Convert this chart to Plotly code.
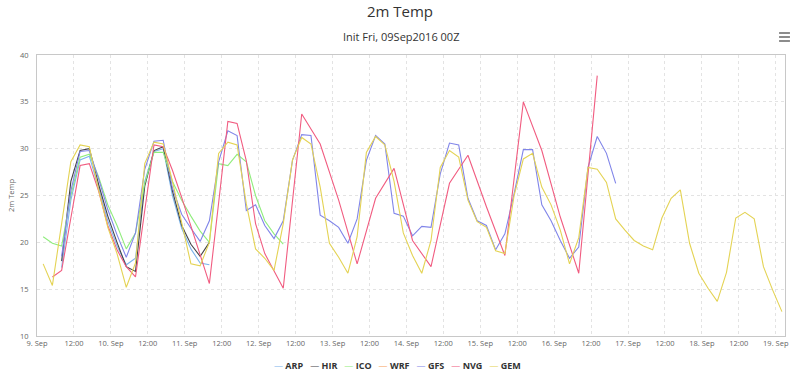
import plotly.graph_objects as go
from datetime import datetime, timedelta

# ---------------- data ----------------
base_time = datetime(2016, 9, 9, 2, 0)

names = ["ARP", "HIR", "ICO", "WRF", "GFS", "NVG", "GEM"]
colors = ["#7cb5ec", "#434348", "#90ed7d", "#f7a35c", "#8085e9", "#f15c80", "#e4d354"]

arp_hours = list(range(6, 55, 3))
arp_vals = [17.3, 24.5, 28.8, 29.2, 25.8, 22.3, 19.6, 17.6, 18.3, 26.5,
            29.7, 30.0, 25.0, 21.5, 19.3, 17.8, 17.6]

hir_hours = list(range(6, 55, 3))
hir_vals = [18.0, 26.5, 29.8, 30.0, 26.2, 22.8, 20.0, 17.4, 16.9, 26.0,
            29.8, 30.2, 25.5, 21.8, 19.8, 18.5, 20.0]

ico_hours = list(range(0, 79, 3))
ico_vals = [20.6, 19.9, 19.6, 25.0, 29.1, 29.4, 27.0, 24.0, 21.8, 19.3,
            21.0, 26.3, 29.6, 29.6, 26.5, 24.5, 22.8, 21.2, 20.0, 28.4,
            28.2, 29.4, 28.6, 25.0, 22.3, 20.9, 19.8]

wrf_hours = []
wrf_vals = []

gfs_hours = list(range(6, 187, 3))
gfs_vals = [18.5, 25.5, 29.7, 29.8, 26.8, 23.5, 20.8, 18.4, 21.0, 27.8,
            30.8, 30.9, 25.8, 23.0, 21.5, 20.1, 22.3, 28.6, 31.9, 31.4,
            23.4, 24.0, 21.8, 20.4, 22.3, 28.75, 31.5, 31.4, 22.9, 22.3,
            21.6, 19.9, 22.5, 28.75, 31.4, 30.5, 23.1, 22.8, 20.7, 21.7,
            21.6, 27.3, 30.6, 30.4, 24.7, 22.3, 21.8, 19.2, 20.9, 25.2,
            29.9, 29.9, 24.0, 22.3, 20.2, 18.3, 19.5, 28.0, 31.3, 29.5,
            26.3]

nvg_hours = list(range(3, 73, 3)) + list(range(78, 181, 6))
nvg_vals = [16.3, 17.0, 22.6, 28.2, 28.4, 25.5, 21.8, 19.2, 17.4, 16.3,
            23.4, 30.4, 30.2, 27.7, 24.8, 21.7, 18.7, 15.6, 24.2, 32.9,
            32.7, 28.7, 22.0, 18.8,
            15.1, 33.7, 30.5, 24.5, 17.7, 24.7, 27.9, 20.2, 17.4, 26.3,
            29.3, 23.8, 18.6, 35.0, 29.8, 22.7, 16.7, 37.8]

gem_hours = list(range(0, 241, 3))
gem_vals = [17.7, 15.4, 22.0, 28.6, 30.4, 30.2, 25.6, 21.6, 18.8, 15.2,
            17.8, 28.4, 30.7, 30.5, 26.5, 22.0, 17.7, 17.5, 20.0, 29.5,
            30.7, 30.4, 24.1, 19.3, 18.3, 17.0, 22.0, 28.8, 31.2, 30.5,
            25.9, 19.9, 18.4, 16.7, 20.6, 29.6, 31.3, 30.4, 26.5, 21.0,
            18.6, 16.7, 20.2, 28.0, 29.8, 29.1, 24.5, 22.2, 21.6, 19.1,
            18.8, 25.0, 28.9, 29.5, 25.9, 24.0, 21.3, 17.7, 20.5, 28.0,
            27.8, 26.4, 22.5, 21.3, 20.2, 19.6, 19.2, 22.6, 24.7, 25.6,
            19.9, 16.7, 15.1, 13.7, 16.8, 22.6, 23.2, 22.5, 17.4, 14.9,
            12.6]

series_hours = [arp_hours, hir_hours, ico_hours, wrf_hours, gfs_hours, nvg_hours, gem_hours]
series_vals = [arp_vals, hir_vals, ico_vals, wrf_vals, gfs_vals, nvg_vals, gem_vals]

tick_labels = ["9. Sep", "12:00", "10. Sep", "12:00", "11. Sep", "12:00", "12. Sep", "12:00",
               "13. Sep", "12:00", "14. Sep", "12:00", "15. Sep", "12:00", "16. Sep", "12:00",
               "17. Sep", "12:00", "18. Sep", "12:00", "19. Sep"]
y_ticks = [10, 15, 20, 25, 30, 35, 40]

# ---------------- figure ----------------
FONT = "Open Sans, Liberation Sans, sans-serif"
fig = go.Figure()
for name, col, hrs, vals in zip(names, colors, series_hours, series_vals):
    fig.add_trace(go.Scatter(
        x=[base_time + timedelta(hours=h) for h in hrs], y=vals,
        mode="lines", name=name, line=dict(color=col, width=1.1),
        showlegend=False))

axis_start = datetime(2016, 9, 9, 0, 0)
tick_vals = [axis_start + timedelta(hours=12 * i) for i in range(len(tick_labels))]

W, H = 800, 372
ml, mr, mt, mb = 32, 11, 55, 36
pw, ph = W - ml - mr, H - mt - mb

def px_x(x):
    return (x - ml) / pw

def px_y(y):
    return (H - mb - y) / ph

# legend built from names/colors
legend_txt = "\u00a0\u00a0\u00a0".join(
    f"<span style='color:{c}'>\u2014</span>\u00a0<b>{n}</b>" for n, c in zip(names, colors))

shapes = []
for yy in (33, 37, 41):
    shapes.append(dict(type="line", xref="paper", yref="paper",
                       x0=px_x(783), x1=px_x(794), y0=px_y(yy), y1=px_y(yy),
                       line=dict(color="#666666", width=1.5)))

fig.update_layout(
    width=W, height=H,
    margin=dict(l=ml, r=mr, t=mt, b=mb),
    paper_bgcolor="white", plot_bgcolor="white",
    font=dict(family=FONT, color="#666666"),
    title=dict(text="2m Temp", x=0.5, xanchor="center", y=1 - 12 / H, yanchor="middle",
               font=dict(family=FONT, size=15, color="#333333")),
    annotations=[
        dict(text="Init Fri, 09Sep2016 00Z", xref="paper", yref="paper",
             x=px_x(400), y=px_y(36), xanchor="center", yanchor="middle",
             showarrow=False, font=dict(family=FONT, size=11, color="#333333")),
        dict(text=legend_txt, xref="paper", yref="paper",
             x=px_x(397), y=px_y(365), xanchor="center", yanchor="middle",
             showarrow=False, font=dict(family=FONT, size=9, color="#333333")),
    ],
    shapes=shapes,
    xaxis=dict(
        type="date",
        range=[axis_start, datetime(2016, 9, 19, 3, 0)],
        tickmode="array", tickvals=tick_vals, ticktext=tick_labels,
        tickfont=dict(size=7.5, color="#666666"),
        showgrid=True, gridcolor="#e3e3e3", griddash="3px,3px", gridwidth=1,
        showline=True, linecolor="#c8c8c8", linewidth=1, mirror=True,
        ticks="", zeroline=False,
    ),
    yaxis=dict(
        range=[10, 40], tickmode="array", tickvals=y_ticks,
        ticktext=[str(v) for v in y_ticks],
        tickfont=dict(size=7.5, color="#666666"),
        showgrid=True, gridcolor="#e3e3e3", griddash="3px,3px", gridwidth=1,
        showline=True, linecolor="#c8c8c8", linewidth=1, mirror=True,
        ticks="", zeroline=False, ticklabelstandoff=6,
        title=dict(text="2m Temp", font=dict(size=7.5, color="#666666"), standoff=4),
    ),
)

fig.write_html("out.html", config={"displayModeBar": False},
               post_script="document.body.style.margin='0px';")
